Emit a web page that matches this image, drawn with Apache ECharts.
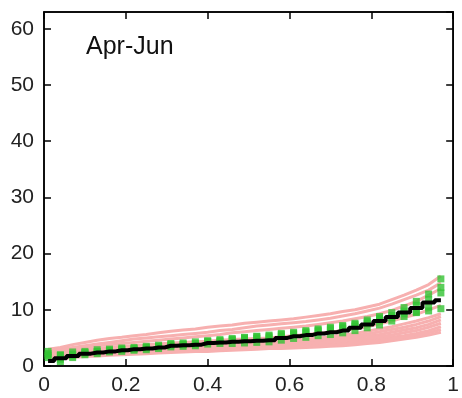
<!DOCTYPE html>
<html>
<head>
<meta charset="utf-8">
<script src="https://cdn.jsdelivr.net/npm/echarts@6/dist/echarts.min.js"></script>
<style>
html,body{margin:0;padding:0;background:#fff;}
#chart{width:462px;height:398px;}
</style>
</head>
<body>
<div id="chart"></div>
<script>
var xs = [0.01,0.04,0.07,0.10,0.13,0.16,0.19,0.22,0.25,0.28,0.31,0.34,0.37,0.40,0.43,0.46,0.49,0.52,0.55,0.58,0.61,0.64,0.67,0.70,0.73,0.76,0.79,0.82,0.85,0.88,0.91,0.94,0.97];
var xTicks = [0,0.2,0.4,0.6,0.8,1];
var yTicks = [0,10,20,30,40,50,60];
var panelLabel = 'Apr-Jun';

var observed = [0.9,1.4,1.8,2.2,2.4,2.6,2.8,3.0,3.1,3.3,3.6,3.7,3.8,4.1,4.2,4.3,4.4,4.5,4.6,5.0,5.3,5.5,5.8,6.0,6.3,6.8,7.4,8.0,8.7,9.5,10.3,11.3,11.7];

var green1 = [2.2,2.0,2.5,2.6,2.9,3.0,3.2,3.3,3.5,3.7,4.0,4.1,4.3,4.5,4.7,4.9,5.1,5.3,5.5,5.8,6.0,6.3,6.6,6.9,7.2,7.6,8.2,8.8,9.5,10.4,11.5,12.8,15.5];
var green2 = [1.5,0.8,1.5,2.0,2.2,2.5,2.6,2.8,2.9,3.1,3.4,3.5,3.6,3.9,4.0,4.0,4.1,4.2,4.3,4.6,4.9,5.1,5.4,5.6,5.9,6.3,6.8,7.3,8.0,8.8,9.5,10.5,13.0];
var green3 = [2.6,1.9,2.1,2.4,2.6,2.8,3.0,3.1,3.3,3.4,3.7,3.8,3.9,4.3,4.4,4.6,4.8,4.9,5.0,5.3,5.6,5.9,6.2,6.4,6.7,7.1,7.6,8.2,8.6,9.3,9.6,9.8,10.2];
var green4 = [1.9,1.2,1.8,2.3,2.5,2.7,2.9,3.0,3.2,3.5,3.8,3.9,4.0,4.4,4.5,4.7,5.0,5.2,5.3,5.6,5.8,6.1,6.4,6.7,7.0,7.4,7.9,8.5,9.0,9.8,10.8,11.8,14.0];

var pink1 = [3.0,3.3,3.8,4.2,4.6,4.9,5.1,5.4,5.6,5.9,6.2,6.4,6.6,6.9,7.1,7.3,7.6,7.8,8.0,8.2,8.4,8.7,9.0,9.3,9.7,10.0,10.5,11.0,11.8,12.6,13.5,14.5,16.0];
var pink2 = [2.8,3.0,3.3,3.6,3.9,4.2,4.5,4.8,5.0,5.2,5.4,5.6,5.8,6.0,6.3,6.5,6.8,7.1,7.3,7.5,7.7,7.9,8.2,8.5,8.9,9.3,9.8,10.3,11.0,11.8,12.6,13.5,14.8];
var pink3 = [2.5,2.8,3.1,3.3,3.6,3.8,4.0,4.2,4.4,4.6,4.8,5.0,5.2,5.4,5.6,5.9,6.1,6.3,6.5,6.7,6.9,7.1,7.4,7.7,8.0,8.4,8.8,9.3,9.9,10.7,11.5,12.6,13.8];
var pink4 = [2.0,2.2,2.4,2.6,2.8,2.9,3.0,3.2,3.3,3.4,3.5,3.6,3.8,3.9,4.0,4.1,4.2,4.3,4.4,4.5,4.6,4.8,5.0,5.2,5.5,5.8,6.2,6.6,7.0,7.5,8.0,8.6,9.3];
var pink5 = [1.6,1.9,2.1,2.3,2.4,2.6,2.7,2.8,2.9,3.0,3.1,3.2,3.3,3.4,3.5,3.6,3.7,3.8,3.9,4.0,4.1,4.2,4.4,4.6,4.8,5.0,5.3,5.6,6.0,6.4,6.8,7.4,8.2];
var pink6 = [1.3,1.6,1.8,2.0,2.1,2.2,2.4,2.5,2.6,2.7,2.8,2.9,3.0,3.0,3.1,3.2,3.3,3.4,3.5,3.5,3.6,3.7,3.8,3.9,4.1,4.3,4.5,4.8,5.1,5.4,5.8,6.3,7.0];
var pink7 = [1.0,1.3,1.5,1.7,1.8,1.9,2.0,2.1,2.2,2.3,2.4,2.5,2.6,2.6,2.7,2.8,2.9,3.0,3.1,3.1,3.2,3.3,3.4,3.5,3.6,3.8,4.0,4.2,4.5,4.8,5.1,5.5,6.0];
var pink8 = [2.2,2.4,2.7,2.9,3.1,3.3,3.5,3.6,3.8,3.9,4.1,4.2,4.3,4.4,4.6,4.7,4.8,4.9,5.0,5.2,5.4,5.6,5.8,6.0,6.3,6.6,7.0,7.5,8.0,8.6,9.2,10.0,10.8];
var pink9 = [1.8,2.0,2.2,2.4,2.5,2.7,2.8,2.9,3.0,3.2,3.3,3.4,3.5,3.6,3.7,3.8,3.9,4.0,4.1,4.2,4.3,4.5,4.7,4.9,5.1,5.4,5.7,6.1,6.5,6.9,7.4,8.0,8.8];
var pink10 = [1.4,1.7,2.0,2.1,2.3,2.4,2.5,2.6,2.8,2.9,3.0,3.0,3.1,3.2,3.3,3.4,3.5,3.6,3.7,3.8,3.9,4.0,4.1,4.3,4.5,4.7,4.9,5.2,5.5,5.9,6.3,6.9,7.6];
var pink11 = [1.2,1.5,1.7,1.9,2.0,2.1,2.2,2.3,2.4,2.5,2.6,2.7,2.8,2.8,2.9,3.0,3.1,3.2,3.3,3.3,3.4,3.5,3.6,3.7,3.9,4.0,4.2,4.5,4.8,5.1,5.5,5.9,6.5];

var pinks = [pink1,pink2,pink3,pink4,pink5,pink6,pink7,pink8,pink9,pink10,pink11];
var greens = [green1,green2,green3,green4];

function pairs(vals){ return xs.map(function(x,i){ return [x, vals[i]]; }); }

var series = [];
pinks.forEach(function(p){
  series.push({type:'line', xAxisIndex:0, yAxisIndex:0, data:pairs(p), showSymbol:false, silent:true,
    lineStyle:{color:'#f7b0b0', width:3}, z:1});
});
greens.forEach(function(g){
  series.push({type:'scatter', xAxisIndex:0, yAxisIndex:0, data:pairs(g), symbol:'rect', symbolSize:[7,7], silent:true,
    itemStyle:{color:'#33c333'}, z:2});
});
series.push({type:'line', xAxisIndex:0, yAxisIndex:0, data:pairs(observed), step:'middle', showSymbol:false, silent:true,
  lineStyle:{color:'#000', width:4}, z:3});

var labelFont = {fontFamily:'Liberation Sans, Arial, sans-serif', fontSize:21, color:'#222'};
var tickStyle = {show:true, inside:true, length:7, lineStyle:{color:'#000', width:1.5}};

var chart = echarts.init(document.getElementById('chart'), null, {renderer:'canvas'});
chart.setOption({
  animation:false,
  backgroundColor:'#fff',
  grid:{left:44, right:2, top:12, bottom:32, show:true, borderColor:'#000', borderWidth:1.5, backgroundColor:'transparent'},
  xAxis:[{
    type:'value', min:xTicks[0], max:xTicks[xTicks.length-1], interval:0.2, position:'bottom',
    axisLine:{show:true, onZero:false, lineStyle:{color:'#000', width:1.5}},
    axisTick:tickStyle,
    splitLine:{show:false},
    axisLabel:Object.assign({margin:9, formatter:function(v){return String(+v.toFixed(1));}}, labelFont)
  },{
    type:'value', min:xTicks[0], max:xTicks[xTicks.length-1], interval:0.2, position:'top',
    axisLine:{show:true, onZero:false, lineStyle:{color:'#000', width:1.5}},
    axisTick:tickStyle,
    splitLine:{show:false}, axisLabel:{show:false}
  }],
  yAxis:[{
    type:'value', min:yTicks[0], max:63, interval:10, position:'left',
    axisLine:{show:true, onZero:false, lineStyle:{color:'#000', width:1.5}},
    axisTick:tickStyle,
    splitLine:{show:false},
    axisLabel:Object.assign({margin:10, showMaxLabel:false}, labelFont)
  },{
    type:'value', min:yTicks[0], max:63, interval:10, position:'right',
    axisLine:{show:true, onZero:false, lineStyle:{color:'#000', width:1.5}},
    axisTick:tickStyle,
    splitLine:{show:false}, axisLabel:{show:false}
  }],
  graphic:[{
    type:'text', left:86, top:35,
    style:{text:panelLabel, fontFamily:'Liberation Sans, Arial, sans-serif', fontSize:25, fill:'#111'}
  }],
  series:series
});
</script>
</body>
</html>
